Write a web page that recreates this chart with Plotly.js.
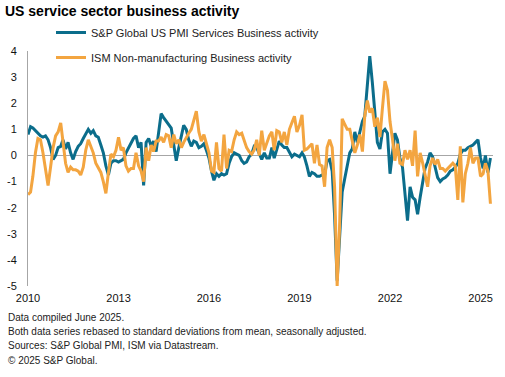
<!DOCTYPE html>
<html>
<head>
<meta charset="utf-8">
<script src="https://cdn.plot.ly/plotly-3.0.1.min.js"></script>
<style>
  html, body { margin: 0; padding: 0; background: #fff; }
  #chart { width: 505px; height: 377px; }
</style>
</head>
<body>
<div id="chart"></div>
<script>
// ---- Data (monthly, Jan 2010 - May 2025), standard deviations from mean ----
const startYear = 2010;
const startMonth = 1;

const spgPmiServices = [
  // 2010
  0.8, 1.1, 1.05, 0.95, 0.85, 0.75, 0.7, 0.75, 0.6, 0.3, -0.15, 0.0,
  // 2011
  0.3, 0.35, 0.6, 0.25, 0.5, 0.1, -0.15, 0.15, 0.35, 0.45, 0.65, 0.85,
  // 2012
  1.0, 0.85, 0.95, 0.75, 0.7, 0.4, 0.1, -0.4, -0.75, -0.3, -0.2, -0.2,
  // 2013
  -0.25, -0.2, -0.15, 0.1, 0.3, 0.5, 0.65, 0.75, 0.3, 0.5, -1.15, 0.5,
  // 2014
  0.65, 0.35, 0.55, 0.15, 0.9, 1.6, 1.45, 1.3, 1.15, 1.05, 0.4, -0.2,
  // 2015
  0.3, 0.75, 1.15, 1.0, 0.6, 0.35, 0.55, 0.5, 0.3, 0.35, 0.45, 0.2,
  // 2016
  -0.1, -0.6, -0.95, -0.7, -0.8, -0.7, -0.75, -0.7, -0.3, -0.05, 0.1, 0.05,
  // 2017
  0.0, -0.2, -0.3, -0.25, -0.05, 0.05, 0.35, 0.3, 0.05, -0.15, 0.1, -0.1,
  // 2018
  -0.1, 0.3, -0.1, 0.2, 0.55, 0.4, 0.3, 0.3, 0.1, -0.05, 0.05, 0.0,
  // 2019
  -0.05, 0.1, -0.05, -0.4, -0.8, -0.65, -0.7, -0.8, -0.8, -0.75, -0.75, -0.2,
  // 2020
  -0.15, -0.6, -2.3, -4.8, -3.0, -1.4, -0.9, -0.35, 0.1, 0.25, 0.9, 0.5,
  // 2021
  0.9, 1.3, 1.5, 2.65, 3.8, 2.8, 1.7, 0.5, 0.25, 0.9, 1.0, 0.85,
  // 2022
  -0.7, 0.2, 0.85, 0.6, -0.1, -0.45, -1.4, -2.5, -1.2, -1.6, -1.7, -2.25,
  // 2023
  -1.6, -1.0, -0.5, -0.25, 0.1, -0.05, -0.5, -0.85, -1.0, -0.9, -0.85, -0.75,
  // 2024
  -0.6, -0.55, -0.45, -0.3, 0.05, 0.2, 0.2, 0.3, 0.35, 0.4, 0.5, 0.6,
  // 2025
  -0.1, -0.5, 0.0, -0.65, -0.1
];

const ismNonManufacturing = [
  // 2010
  -1.5, -1.4, -0.8, 0.1, 0.65, 0.6, 0.1, -0.6, -1.15, -0.45, 0.3, 0.75,
  // 2011
  0.9, 1.25, 0.5, -0.3, -0.65, -0.45, -0.55, -0.55, -0.6, -0.75, -0.45, 0.2,
  // 2012
  0.6, 0.35, 0.1, -0.3, -0.5, -0.65, -1.0, -1.45, -0.65, 0.05, -0.05, 0.2,
  // 2013
  0.7, 0.2, 0.3, -0.4, -0.6, -0.5, -0.5, 0.1, -0.4, -0.6, -1.0, 0.3,
  // 2014
  -0.2, 0.4, 0.15, 0.55, 0.55, 0.7, 0.5, 0.8, 0.75, 0.3, 0.8, 0.45,
  // 2015
  0.6, 0.3, 0.5, 0.7, 0.85, 1.0, 1.3, 1.7, 0.9, 0.55, 0.8, 0.4,
  // 2016
  0.1, -0.6, -0.65, 0.5, -0.5, -0.6, 0.8, -0.5, 0.2, 0.15, 0.6, 0.9,
  // 2017
  0.8, 0.85, 0.6, 0.3, 0.15, 0.05, 0.2, 0.6, 0.0, 0.95, 0.2, 0.5,
  // 2018
  0.75, 0.9, 0.2, 0.95, 0.9, 0.5, 0.9, 0.4, 1.0, 1.25, 1.5, 0.9,
  // 2019
  1.15, 1.55, 0.2, 0.25, 0.35, 0.45, -0.3, 0.4, -0.35, -0.4, -1.2, 0.3,
  // 2020
  0.6, 0.3, -1.2, -5.0, -2.7, 1.4, 1.2, 1.0, 1.0, 0.6, 0.1, 0.4,
  // 2021
  0.8, 0.15, 1.5, 2.1, 1.65, 1.8, 1.1, 1.45, 0.7, 1.8, 2.85, 2.5,
  // 2022
  1.3, 0.6, -0.2, 0.45, -0.3, -0.35, 0.2, -0.15, 0.2, -0.4, 0.95, -0.8,
  // 2023
  0.1, -0.3, -0.8, -1.2, -0.4, -0.1, -0.35, -0.15, -0.5, -0.5, -0.6, -0.5,
  // 2024
  -0.4, -0.3, -0.4, -1.7, 0.35, -1.8, -0.7, -0.3, 0.3, -0.3, -0.1, -0.1,
  // 2025
  -0.8, -0.7, -0.3, -0.6, -1.85
];

const seriesNames = [
  'S&P Global US PMI Services Business activity',
  'ISM Non-manufacturing Business activity'
];
const xTickYears = ['2010', '2013', '2016', '2019', '2022', '2025'];
const yTickValues = [-5, -4, -3, -2, -1, 0, 1, 2, 3, 4];
const chartTitle = 'US service sector business activity';
const footnotes = [
  'Data compiled June 2025.',
  'Both data series rebased to standard deviations from mean, seasonally adjusted.',
  'Sources: S&P Global PMI, ISM via Datastream.',
  '\u00a9 2025 S&P Global.'
];

// ---- month labels for the x axis ----
function monthDates(n) {
  const out = [];
  for (let i = 0; i < n; i++) {
    const y = startYear + Math.floor((startMonth - 1 + i) / 12);
    const m = ((startMonth - 1 + i) % 12) + 1;
    out.push(y + '-' + String(m).padStart(2, '0') + '-01');
  }
  return out;
}
const dates = monthDates(spgPmiServices.length);

// ---- styling ----
const W = 505, H = 377;
const M = { l: 28, r: 12, t: 51, b: 91 };
const plotW = W - M.l - M.r, plotH = H - M.t - M.b;
const px2x = px => (px - M.l) / plotW;
const py2y = py => (H - M.b - py) / plotH;
const FONT = 'Arial, "Liberation Sans", sans-serif';
const TEAL = '#0b6d8b';
const ORANGE = '#f3a540';

const traces = [
  { x: dates, y: spgPmiServices, name: seriesNames[0], type: 'scatter', mode: 'lines',
    legendgroup: 'a', line: { color: TEAL, width: 3 } },
  { x: dates, y: ismNonManufacturing, name: seriesNames[1], type: 'scatter', mode: 'lines',
    legendgroup: 'b', line: { color: ORANGE, width: 3 } }
];

const footY = [317, 331.5, 345.5, 360];
const annotations = footnotes.map((t, i) => ({
  text: t, xref: 'paper', yref: 'paper', x: px2x(6), y: py2y(footY[i]),
  xanchor: 'left', yanchor: 'middle', showarrow: false,
  font: { family: FONT, size: 10, color: '#222' }
}));

const layout = {
  width: W, height: H,
  margin: M,
  paper_bgcolor: '#fff', plot_bgcolor: '#fff',
  font: { family: FONT, size: 11, color: '#111' },
  title: {
    text: '<b>' + chartTitle + '</b>',
    font: { family: FONT, size: 14, color: '#000' },
    xref: 'container', yref: 'container',
    x: 5 / W, xanchor: 'left', y: 1 - 11 / H, yanchor: 'middle'
  },
  xaxis: {
    type: 'date',
    range: ['2010-01-01', '2025-06-01'],
    tickvals: xTickYears.map(y => y + '-01-01'),
    ticktext: xTickYears,
    showgrid: false, zeroline: false, showline: false, ticks: '',
    tickfont: { family: FONT, size: 11, color: '#111' },
    ticklabelstandoff: 4
  },
  yaxis: {
    range: [-5, 4],
    tickvals: yTickValues,
    ticktext: yTickValues.map(String),
    showgrid: false,
    zeroline: true, zerolinecolor: '#a6a6a6', zerolinewidth: 1,
    showline: true, linecolor: '#a6a6a6', linewidth: 1,
    ticks: '',
    tickfont: { family: FONT, size: 11, color: '#111' },
    ticklabelstandoff: 8
  },
  showlegend: true,
  legend: {
    x: px2x(51), y: py2y(18), xanchor: 'left', yanchor: 'top',
    bgcolor: 'rgba(0,0,0,0)', borderwidth: 0,
    font: { family: FONT, size: 11, color: '#222' },
    traceorder: 'grouped', tracegroupgap: 6
  },
  annotations: annotations
};

Plotly.newPlot('chart', traces, layout, { displayModeBar: false, staticPlot: true });
</script>
</body>
</html>
